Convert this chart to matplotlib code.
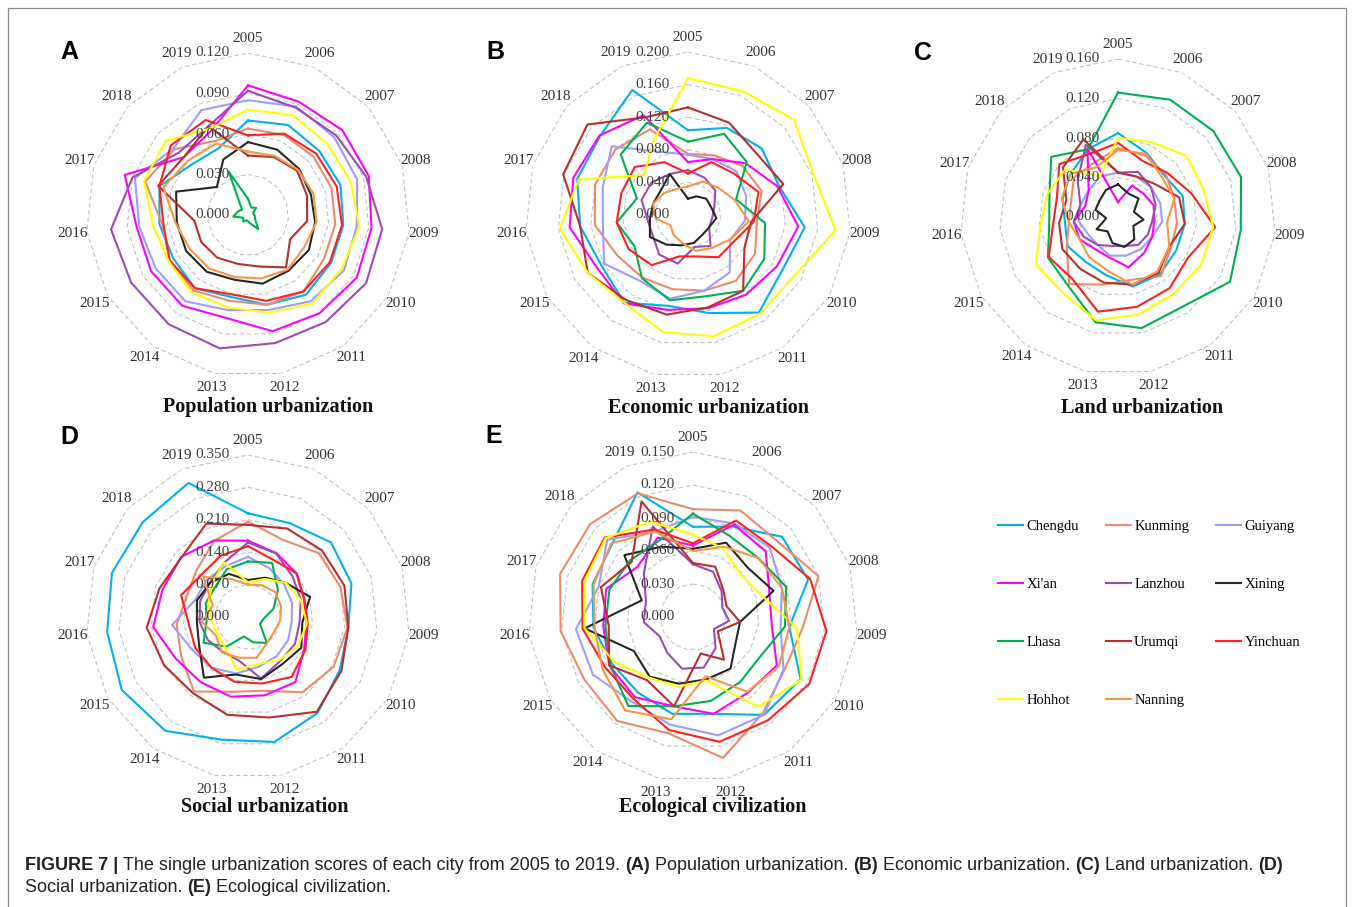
import numpy as np
import matplotlib
matplotlib.use('Agg')
from matplotlib import pyplot as plt
from matplotlib import font_manager
from matplotlib.patches import Rectangle
import matplotlib.transforms as mtransforms

years = [str(y) for y in range(2005, 2020)]
cities = ['Chengdu', 'Kunming', 'Guiyang', "Xi'an", 'Lanzhou', 'Xining',
          'Lhasa', 'Urumqi', 'Yinchuan', 'Hohhot', 'Nanning']
colors = ['#00B0F0', '#EC8B6C', '#9D9DFF', '#FF00FF', '#9A4CB5', '#262626',
          '#00B050', '#B8302E', '#FF2020', '#FFFF00', '#F79646']

# (A) population urbanization, one row per city
pop_scores = [
    [0.070, 0.073, 0.071, 0.072, 0.071, 0.071, 0.073, 0.068, 0.062, 0.067, 0.064, 0.066, 0.069, 0.056, 0.054],
    [0.064, 0.065, 0.065, 0.065, 0.065, 0.065, 0.070, 0.068, 0.065, 0.069, 0.067, 0.064, 0.080, 0.073, 0.060],
    [0.085, 0.088, 0.086, 0.085, 0.081, 0.082, 0.079, 0.072, 0.072, 0.079, 0.079, 0.081, 0.088, 0.074, 0.085],
    [0.096, 0.092, 0.094, 0.094, 0.092, 0.093, 0.090, 0.088, 0.078, 0.083, 0.083, 0.083, 0.096, 0.064, 0.068],
    [0.092, 0.087, 0.088, 0.092, 0.100, 0.101, 0.098, 0.097, 0.101, 0.100, 0.100, 0.102, 0.090, 0.069, 0.072],
    [0.054, 0.053, 0.051, 0.049, 0.050, 0.052, 0.051, 0.052, 0.049, 0.052, 0.053, 0.053, 0.056, 0.031, 0.045],
    [0.012, 0.006, 0.008, 0.004, 0.005, 0.006, 0.013, 0.006, 0.004, 0.006, 0.004, 0.011, 0.008, 0.006, 0.035],
    [0.044, 0.047, 0.049, 0.046, 0.044, 0.036, 0.048, 0.039, 0.037, 0.039, 0.040, 0.040, 0.070, 0.064, 0.072],
    [0.059, 0.066, 0.068, 0.069, 0.070, 0.070, 0.070, 0.065, 0.060, 0.067, 0.067, 0.063, 0.069, 0.077, 0.077],
    [0.078, 0.081, 0.079, 0.080, 0.083, 0.080, 0.081, 0.074, 0.070, 0.071, 0.068, 0.071, 0.081, 0.082, 0.070],
    [0.047, 0.048, 0.050, 0.051, 0.051, 0.048, 0.050, 0.048, 0.047, 0.049, 0.050, 0.054, 0.066, 0.060, 0.058],
]

# (B) economic urbanization
econ_scores = [
    [0.104, 0.117, 0.122, 0.117, 0.144, 0.134, 0.148, 0.123, 0.114, 0.133, 0.123, 0.133, 0.143, 0.145, 0.168],
    [0.075, 0.080, 0.090, 0.095, 0.085, 0.095, 0.100, 0.095, 0.093, 0.095, 0.100, 0.115, 0.120, 0.120, 0.115],
    [0.074, 0.075, 0.080, 0.075, 0.070, 0.060, 0.087, 0.095, 0.105, 0.100, 0.119, 0.105, 0.110, 0.126, 0.085],
    [0.065, 0.075, 0.095, 0.115, 0.136, 0.126, 0.121, 0.117, 0.119, 0.134, 0.129, 0.146, 0.148, 0.146, 0.134],
    [0.055, 0.050, 0.045, 0.034, 0.030, 0.030, 0.047, 0.040, 0.061, 0.060, 0.050, 0.050, 0.060, 0.060, 0.055],
    [0.020, 0.025, 0.030, 0.030, 0.035, 0.030, 0.030, 0.035, 0.038, 0.045, 0.054, 0.047, 0.045, 0.045, 0.055],
    [0.090, 0.109, 0.097, 0.062, 0.095, 0.108, 0.115, 0.102, 0.107, 0.096, 0.076, 0.088, 0.066, 0.111, 0.124],
    [0.132, 0.124, 0.113, 0.123, 0.078, 0.080, 0.115, 0.116, 0.125, 0.129, 0.142, 0.133, 0.161, 0.166, 0.131],
    [0.051, 0.071, 0.076, 0.091, 0.081, 0.065, 0.064, 0.052, 0.052, 0.076, 0.084, 0.088, 0.086, 0.088, 0.071],
    [0.168, 0.166, 0.175, 0.162, 0.182, 0.150, 0.150, 0.152, 0.147, 0.133, 0.142, 0.158, 0.141, 0.073, 0.102],
    [0.035, 0.045, 0.050, 0.060, 0.075, 0.060, 0.050, 0.045, 0.035, 0.030, 0.025, 0.040, 0.045, 0.040, 0.035],
]

# (C) land urbanization
land_scores = [
    [0.085, 0.071, 0.063, 0.069, 0.068, 0.068, 0.072, 0.072, 0.060, 0.056, 0.059, 0.054, 0.059, 0.065, 0.075],
    [0.070, 0.068, 0.065, 0.060, 0.060, 0.062, 0.074, 0.065, 0.070, 0.084, 0.060, 0.050, 0.050, 0.060, 0.060],
    [0.045, 0.045, 0.045, 0.045, 0.045, 0.040, 0.040, 0.040, 0.040, 0.035, 0.035, 0.040, 0.040, 0.040, 0.045],
    [0.015, 0.035, 0.035, 0.038, 0.037, 0.040, 0.045, 0.052, 0.042, 0.040, 0.045, 0.045, 0.035, 0.040, 0.076],
    [0.045, 0.050, 0.045, 0.040, 0.035, 0.035, 0.035, 0.030, 0.030, 0.035, 0.040, 0.045, 0.040, 0.055, 0.080],
    [0.033, 0.026, 0.028, 0.017, 0.026, 0.018, 0.028, 0.031, 0.027, 0.018, 0.025, 0.012, 0.024, 0.025, 0.030],
    [0.126, 0.130, 0.130, 0.131, 0.125, 0.131, 0.112, 0.115, 0.109, 0.086, 0.082, 0.070, 0.073, 0.091, 0.075],
    [0.045, 0.045, 0.050, 0.065, 0.068, 0.060, 0.070, 0.070, 0.068, 0.065, 0.065, 0.060, 0.055, 0.075, 0.086],
    [0.075, 0.062, 0.067, 0.078, 0.099, 0.082, 0.089, 0.093, 0.098, 0.078, 0.081, 0.066, 0.065, 0.080, 0.070],
    [0.080, 0.083, 0.093, 0.091, 0.097, 0.097, 0.096, 0.101, 0.107, 0.095, 0.096, 0.079, 0.075, 0.072, 0.045],
    [0.068, 0.070, 0.060, 0.060, 0.050, 0.060, 0.068, 0.070, 0.055, 0.050, 0.045, 0.050, 0.060, 0.065, 0.055],
]

# (D) social urbanization
social_scores = [
    [0.224, 0.222, 0.241, 0.235, 0.218, 0.229, 0.256, 0.276, 0.271, 0.304, 0.315, 0.306, 0.309, 0.306, 0.317],
    [0.206, 0.183, 0.206, 0.210, 0.216, 0.214, 0.201, 0.163, 0.165, 0.199, 0.167, 0.155, 0.140, 0.150, 0.180],
    [0.130, 0.115, 0.105, 0.100, 0.095, 0.100, 0.105, 0.110, 0.125, 0.135, 0.140, 0.165, 0.120, 0.120, 0.120],
    [0.165, 0.151, 0.141, 0.127, 0.127, 0.140, 0.174, 0.173, 0.176, 0.174, 0.180, 0.206, 0.194, 0.194, 0.181],
    [0.161, 0.150, 0.130, 0.120, 0.112, 0.117, 0.118, 0.136, 0.096, 0.093, 0.100, 0.105, 0.109, 0.111, 0.128],
    [0.080, 0.093, 0.110, 0.141, 0.118, 0.133, 0.126, 0.137, 0.127, 0.162, 0.122, 0.111, 0.116, 0.110, 0.102],
    [0.120, 0.128, 0.087, 0.058, 0.034, 0.030, 0.069, 0.056, 0.043, 0.079, 0.111, 0.090, 0.096, 0.096, 0.113],
    [0.199, 0.209, 0.215, 0.219, 0.218, 0.233, 0.253, 0.222, 0.216, 0.203, 0.209, 0.220, 0.201, 0.193, 0.221],
    [0.153, 0.135, 0.141, 0.128, 0.130, 0.143, 0.160, 0.147, 0.143, 0.135, 0.132, 0.129, 0.152, 0.136, 0.145],
    [0.075, 0.090, 0.110, 0.120, 0.128, 0.125, 0.115, 0.104, 0.116, 0.083, 0.075, 0.080, 0.090, 0.105, 0.130],
    [0.070, 0.075, 0.080, 0.075, 0.070, 0.065, 0.070, 0.090, 0.090, 0.095, 0.080, 0.100, 0.080, 0.130, 0.090],
]

# (E) ecological civilization
eco_scores = [
    [0.082, 0.090, 0.109, 0.110, 0.088, 0.113, 0.110, 0.090, 0.090, 0.085, 0.085, 0.091, 0.096, 0.099, 0.124],
    [0.098, 0.106, 0.103, 0.120, 0.100, 0.096, 0.108, 0.131, 0.108, 0.117, 0.114, 0.121, 0.127, 0.126, 0.123],
    [0.091, 0.093, 0.094, 0.085, 0.080, 0.095, 0.110, 0.110, 0.100, 0.095, 0.105, 0.107, 0.090, 0.105, 0.085],
    [0.065, 0.092, 0.089, 0.073, 0.072, 0.088, 0.085, 0.090, 0.083, 0.090, 0.088, 0.082, 0.083, 0.068, 0.079],
    [0.048, 0.045, 0.035, 0.028, 0.033, 0.022, 0.035, 0.047, 0.048, 0.040, 0.035, 0.045, 0.045, 0.060, 0.090],
    [0.062, 0.074, 0.067, 0.077, 0.043, 0.045, 0.058, 0.058, 0.062, 0.067, 0.062, 0.099, 0.049, 0.084, 0.070],
    [0.094, 0.081, 0.080, 0.089, 0.084, 0.071, 0.073, 0.078, 0.083, 0.100, 0.087, 0.080, 0.080, 0.077, 0.076],
    [0.049, 0.050, 0.037, 0.032, 0.043, 0.026, 0.048, 0.034, 0.083, 0.071, 0.088, 0.077, 0.088, 0.075, 0.115],
    [0.067, 0.096, 0.096, 0.112, 0.122, 0.122, 0.116, 0.116, 0.105, 0.092, 0.092, 0.101, 0.106, 0.108, 0.087],
    [0.075, 0.068, 0.058, 0.065, 0.095, 0.114, 0.101, 0.059, 0.065, 0.068, 0.082, 0.099, 0.104, 0.107, 0.095],
    [0.060, 0.070, 0.080, 0.085, 0.088, 0.090, 0.084, 0.055, 0.095, 0.105, 0.095, 0.090, 0.095, 0.100, 0.085],
]

W, H = 1355, 907
serif = ['Liberation Serif', 'DejaVu Serif']
have = {f.name for f in font_manager.fontManager.ttflist}
cap_family = 'Liberation Sans Narrow' if 'Liberation Sans Narrow' in have else 'Liberation Sans'

fig = plt.figure(figsize=(W / 100, H / 100), dpi=100)

# frame around the whole figure
fig.add_artist(Rectangle((8 / W, -0.01), 1338 / W, 1.01 - 8 / H, transform=fig.transFigure,
                         fill=False, edgecolor='#8c8c8c', lw=0.9))

# panel: letter, title, data, rmax, tick step, center x/y px, radius px, title x/y px, letter x/y px
panels = [
    ('A', 'Population urbanization', pop_scores, 0.12, 0.03, 248, 215, 162, 268, 407, 69, 52),
    ('B', 'Economic urbanization', econ_scores, 0.20, 0.04, 688, 215, 163, 709, 408, 495, 52),
    ('C', 'Land urbanization', land_scores, 0.16, 0.04, 1118, 217, 158, 1142, 408, 923, 53),
    ('D', 'Social urbanization', social_scores, 0.35, 0.07, 248, 617, 162, 265, 807, 69, 437),
    ('E', 'Ecological civilization', eco_scores, 0.15, 0.03, 693, 617, 165, 713, 807, 494, 436),
]

theta = np.linspace(0, 2 * np.pi, len(years), endpoint=False)
theta_c = np.append(theta, theta[0])
handles = None

for letter, title, data, rmax, step, cx, cy, R, tx, ty, lx, ly in panels:
    ax = fig.add_axes([(cx - R) / W, (H - cy - R) / H, 2 * R / W, 2 * R / H], projection='polar')
    ax.set_theta_zero_location('N')
    ax.set_theta_direction(-1)
    ax.set_ylim(0, rmax)
    ax.grid(False)
    ax.spines['polar'].set_visible(False)
    ax.set_xticks([])
    ax.set_yticks([])
    ax.patch.set_alpha(0)

    ticks = np.arange(0, rmax + step / 2, step)
    for v in ticks[1:]:
        ax.plot(theta_c, np.full(len(theta_c), v), color='#c4c4c4', lw=0.8,
                ls=(0, (4, 2.5)), zorder=1)

    lines = []
    for name, vals, col in zip(cities, data, colors):
        vv = np.append(vals, vals[0])
        ln, = ax.plot(theta_c, vv, color=col, lw=1.5, label=name, zorder=3)
        lines.append(ln)
    if handles is None:
        handles = lines

    lab_tr = mtransforms.offset_copy(ax.transData, fig=fig, x=-13, y=0, units='points')
    for v in ticks:
        ax.text(0, v, f'{v:.3f}', transform=lab_tr, ha='right', va='center',
                fontsize=11, family=serif, color='#404040', zorder=4)

    for th, yr in zip(theta, years):
        ax.text(th, rmax * 1.09, yr, ha='center', va='center', fontsize=11,
                family=serif, color='#333333')

    fig.text(tx / W, 1 - ty / H, title, ha='center', va='center', fontsize=14.5,
             family=serif, weight='bold', color='#111111')
    fig.text(lx / W, 1 - ly / H, letter, ha='center', va='center',
             fontsize=18, family='Liberation Sans', weight='bold', color='black')

# legend laid out row by row like the original (matplotlib fills columns first)
order = [0, 3, 6, 9, 1, 4, 7, 10, 2, 5, 8]
fig.legend([handles[i] for i in order], [cities[i] for i in order], ncol=3,
           loc='upper left', bbox_to_anchor=(992 / W, 1 - 514 / H), frameon=False,
           prop={'family': serif, 'size': 10.5}, handlelength=1.7, handletextpad=0.25,
           columnspacing=1.85, labelspacing=3.08, borderaxespad=0)

# caption with mixed bold / regular runs
renderer = fig.canvas.get_renderer()
line1 = [('FIGURE 7 |', 'bold'), ('The single urbanization scores of each city from 2005 to 2019.', 'normal'),
         ('(A)', 'bold'), ('Population urbanization.', 'normal'), ('(B)', 'bold'),
         ('Economic urbanization.', 'normal'), ('(C)', 'bold'), ('Land urbanization.', 'normal'),
         ('(D)', 'bold')]
line2 = [('Social urbanization.', 'normal'), ('(E)', 'bold'), ('Ecological civilization.', 'normal')]


def width_px(s, weight, size):
    t = fig.text(0, 0, s, family=cap_family, weight=weight, fontsize=size)
    w = t.get_window_extent(renderer).width
    t.remove()
    return w


def run_width(runs, size):
    sp = width_px('x x', 'normal', size) - width_px('xx', 'normal', size)
    return sum(width_px(s, w, size) for s, w in runs) + sp * (len(runs) - 1), sp


base = 11.0
tw, _ = run_width(line1, base)
cap_size = base * 1255 / tw
for runs, y in [(line1, 866), (line2, 888)]:
    _, sp = run_width(runs, cap_size)
    x = 25
    for s, w in runs:
        fig.text(x / W, 1 - y / H, s, family=cap_family, weight=w, fontsize=cap_size,
                 va='center', ha='left', color='#222222')
        x += width_px(s, w, cap_size) + sp

fig.savefig('out.png', dpi=100)
